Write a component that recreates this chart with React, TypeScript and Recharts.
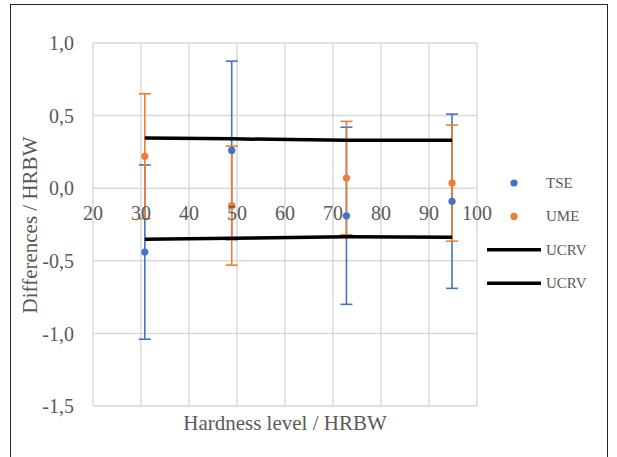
import {
  ScatterChart,
  Scatter,
  XAxis,
  YAxis,
  CartesianGrid,
  ErrorBar,
} from "recharts";

const hardness = [30.8, 48.9, 72.8, 94.8];
const tse = [-0.44, 0.26, -0.19, -0.09];
const tseErr = [0.6, 0.615, 0.61, 0.6];
const ume = [0.22, -0.12, 0.07, 0.035];
const umeErr = [0.43, 0.41, 0.39, 0.4];
const ucrvUpper = [0.345, 0.34, 0.33, 0.33];
const ucrvLower = [-0.352, -0.345, -0.335, -0.337];
const xTicks = [20, 30, 40, 50, 60, 70, 80, 90, 100];
const yTicks = [-1.5, -1, -0.5, 0, 0.5, 1];
const legendNames = ["TSE", "UME", "UCRV", "UCRV"];

const BLUE = "#4472C4";
const ORANGE = "#ED7D31";
const TEXT = "#595959";
const FONT = "'Liberation Serif', 'Times New Roman', serif";

const W = 617;
const H = 457;
const M = { top: 43, right: 140, bottom: 21, left: 33 };
const Y_AXIS_W = 60;
const X_AXIS_H = 30;
const plotH = H - M.top - M.bottom - X_AXIS_H;
// x axis crosses at y = 0
const zeroY = M.top + (plotH * (1 - 0)) / (1 - -1.5);

const tseRows = hardness.map((x, i) => ({ x, y: tse[i], err: tseErr[i] }));
const umeRows = hardness.map((x, i) => ({ x, y: ume[i], err: umeErr[i] }));
const upperRows = hardness.map((x, i) => ({ x, y: ucrvUpper[i] }));
const lowerRows = hardness.map((x, i) => ({ x, y: ucrvLower[i] }));

const dot = (color: string) => (p: any) => (
  <circle cx={p.cx} cy={p.cy} r={3.6} fill={color} />
);

function XTick(props: any) {
  return (
    <text
      x={props.x}
      y={zeroY + 32}
      textAnchor="middle"
      fill={TEXT}
      fontSize={20}
      fontFamily={FONT}
    >
      {props.payload.value}
    </text>
  );
}

function LegendBox() {
  const colors = [BLUE, ORANGE, "#000", "#000"];
  return (
    <svg width={130} height={140}>
      {legendNames.map((name, i) => {
        const cy = 13 + i * 33.4;
        return (
          <g key={i}>
            {i < 2 ? (
              <circle cx={34} cy={cy} r={3.6} fill={colors[i]} />
            ) : (
              <line x1={7} x2={61} y1={cy} y2={cy} stroke={colors[i]} strokeWidth={3.5} />
            )}
            <text x={66} y={cy + 5} fill={TEXT} fontSize={15} fontFamily={FONT}>
              {name}
            </text>
          </g>
        );
      })}
    </svg>
  );
}

export default function App() {
  return (
    <div
      style={{
        position: "absolute",
        left: 0,
        top: 0,
        width: W,
        height: H,
        background: "#fff",
        overflow: "hidden",
        fontFamily: FONT,
      }}
    >
      <div
        style={{
          position: "absolute",
          left: 10,
          top: 4,
          width: 596,
          height: 480,
          border: "1.5px solid #262626",
        }}
      />
      <ScatterChart width={W} height={H} margin={M} style={{ fontFamily: FONT }}>
        <CartesianGrid stroke="#D9D9D9" strokeWidth={1.5} />
        <XAxis
          type="number"
          dataKey="x"
          domain={[20, 100]}
          ticks={xTicks}
          axisLine={false}
          tickLine={false}
          height={X_AXIS_H}
          tick={<XTick />}
          interval={0}
        />
        <YAxis
          type="number"
          dataKey="y"
          domain={[-1.5, 1]}
          ticks={yTicks}
          width={Y_AXIS_W}
          axisLine={false}
          tickLine={false}
          tickSize={0}
          tickMargin={19}
          interval={0}
          tickFormatter={(v: number) => v.toFixed(1).replace(".", ",")}
          tick={{ fill: TEXT, fontSize: 20, fontFamily: FONT }}
        />
        <Scatter name="TSE" data={tseRows} fill={BLUE} shape={dot(BLUE)} isAnimationActive={false}>
          <ErrorBar
            dataKey="err"
            direction="y"
            width={6}
            stroke={BLUE}
            strokeWidth={1.6}
            isAnimationActive={false}
          />
        </Scatter>
        <Scatter name="UME" data={umeRows} fill={ORANGE} shape={dot(ORANGE)} isAnimationActive={false}>
          <ErrorBar
            dataKey="err"
            direction="y"
            width={6}
            stroke={ORANGE}
            strokeWidth={1.6}
            isAnimationActive={false}
          />
        </Scatter>
        <Scatter
          name="UCRV"
          data={upperRows}
          line={{ stroke: "#000", strokeWidth: 3.5 }}
          shape={() => <g />}
          isAnimationActive={false}
        />
        <Scatter
          name="UCRV"
          data={lowerRows}
          line={{ stroke: "#000", strokeWidth: 3.5 }}
          shape={() => <g />}
          isAnimationActive={false}
        />
      </ScatterChart>
      <div style={{ position: "absolute", left: 480, top: 170 }}>
        <LegendBox />
      </div>
      <svg
        width={W}
        height={H}
        style={{ position: "absolute", left: 0, top: 0, pointerEvents: "none" }}
      >
        <text x={285} y={430} textAnchor="middle" fill={TEXT} fontSize={21} fontFamily={FONT}>
          Hardness level / HRBW
        </text>
        <text
          transform="translate(37 225) rotate(-90)"
          textAnchor="middle"
          fill={TEXT}
          fontSize={21}
          fontFamily={FONT}
        >
          Differences / HRBW
        </text>
      </svg>
    </div>
  );
}
